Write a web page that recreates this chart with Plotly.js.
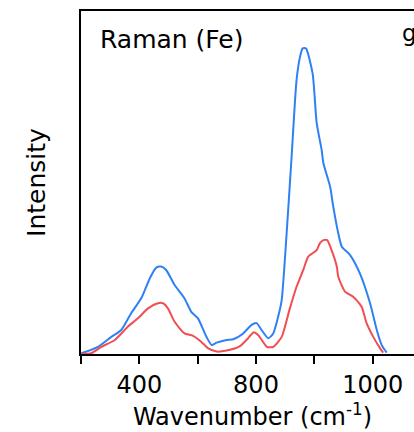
<!DOCTYPE html>
<html>
<head>
<meta charset="utf-8">
<script src="https://cdn.plot.ly/plotly-3.0.1.min.js"></script>
<style>
html,body{margin:0;padding:0;overflow:hidden;background:#fff;width:414px;height:432px;}
#chart{width:460px;height:432px;}
</style>
</head>
<body>
<div id="chart"></div>
<script>
// Blue spectrum (axis position units, intensity in arbitrary units)
const blueX = [201,258,304,338,372,407,436,458,475,492,521,555,578,601,630,648,665,699,722,756,785,802,819,842,859,876,888,905,922,939,951,960,971,994,1008,1025,1031,1054,1065,1082,1094,1122,1156,1191,1214,1231,1248];
const blueY = [0.2,2.1,5.0,7.0,11.9,16.3,22.1,25.2,25.5,24.5,20.1,16.2,12.3,10.4,5.0,2.6,3.3,4.1,4.3,6.0,8.5,9.0,7.0,4.6,6.0,10.9,15.7,35.2,57.5,79.9,86.7,89.1,89.1,81.8,67.3,59.5,55.6,48.8,42.9,35.2,31.3,28.9,23.5,14.8,7.0,2.6,0.4];
// Red spectrum
const redX = [201,235,270,316,361,395,430,464,481,498,521,555,584,612,635,665,699,745,773,791,808,837,859,888,916,939,962,979,1008,1019,1031,1044,1059,1077,1082,1105,1133,1162,1179,1202,1225,1236];
const redY = [0.0,0.2,2.1,4.1,8.0,10.4,13.3,14.8,14.8,13.3,9.4,6.0,5.3,3.6,1.7,0.7,1.0,2.3,4.6,6.3,5.5,2.1,2.1,5.0,13.3,19.6,24.5,28.4,30.3,32.3,33.2,33.2,30.3,25.5,22.5,18.2,16.7,13.8,9.0,5.0,1.7,0.4];
// Tick positions and labels
const tickVals = [200,400,600,800,1000,1200];
const tickText = ['','400','','800','','1000'];

const fam = '"DejaVu Sans", Verdana, sans-serif';
const f = (s) => ({family:fam, size:s, color:'#000'});

const traces = [
  {x: blueX, y: blueY, mode:'lines', line:{color:'#2F80F5', width:2, shape:'spline', smoothing:0.6}, hoverinfo:'skip'},
  {x: redX, y: redY, mode:'lines', line:{color:'#F04E52', width:2, shape:'spline', smoothing:0.6}, hoverinfo:'skip'}
];

const layout = {
  width:460, height:432,
  margin:{l:81, r:36, t:11, b:78},
  paper_bgcolor:'#fff', plot_bgcolor:'#fff',
  showlegend:false,
  font: f(24),
  xaxis:{
    range:[200,1375.9], showgrid:false, zeroline:false,
    showline:true, linecolor:'#000', linewidth:2, mirror:true,
    ticks:'outside', ticklen:8, tickwidth:2, tickcolor:'#000',
    tickvals:tickVals, ticktext:tickText,
    tickfont:f(24),
    title:{text:'Wavenumber (cm<sup>-1</sup>)', font:f(24), standoff:6}
  },
  yaxis:{
    range:[0,100], showgrid:false, zeroline:false,
    showline:true, linecolor:'#000', linewidth:2, mirror:true,
    ticks:'', showticklabels:false,
    title:{text:'Intensity', font:f(25), standoff:26}
  },
  annotations:[
    {xref:'paper', yref:'paper', x:0.05, y:0.918, xanchor:'left', yanchor:'middle', text:'Raman (Fe)', showarrow:false, font:f(25)},
    {xref:'paper', yref:'paper', x:0.93, y:0.935, xanchor:'left', yanchor:'middle', text:'g', showarrow:false, font:f(23)}
  ]
};

Plotly.newPlot('chart', traces, layout, {staticPlot:true, displayModeBar:false});
</script>
</body>
</html>
